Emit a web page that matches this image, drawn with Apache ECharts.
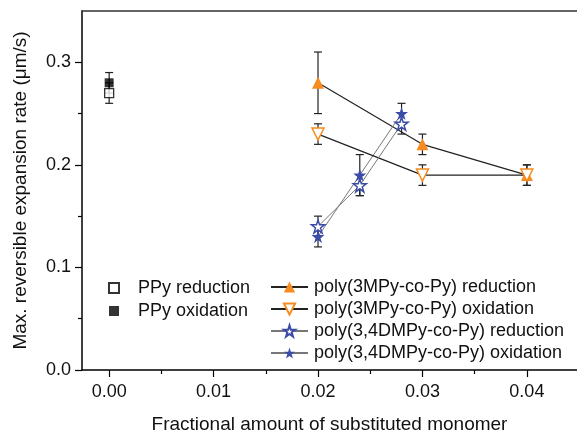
<!DOCTYPE html>
<html><head><meta charset="utf-8">
<script src="https://cdn.jsdelivr.net/npm/echarts@6/dist/echarts.min.js"></script>
<style>html,body{margin:0;padding:0;background:#fff}#c{width:577px;height:439px}</style>
</head><body><div id="c"></div>
<script>
// ---- data ----
const xTicks = [0, 0.01, 0.02, 0.03, 0.04];
const xMinorTicks = [0.005, 0.015, 0.025, 0.035];
const yTicks = [0, 0.1, 0.2, 0.3];
const yMinorTicks = [0.05, 0.15, 0.25];

const ppyX = [0];
const ppyRed = [0.27];
const ppyRedErr = [0.01];
const ppyOx = [0.28];
const ppyOxErr = [0.01];

const mpyX = [0.02, 0.03, 0.04];
const mpyRed = [0.28, 0.22, 0.19];
const mpyRedErr = [0.03, 0.01, 0.01];
const mpyOx = [0.23, 0.19, 0.19];
const mpyOxErr = [0.01, 0.01, 0.01];

const dmpyX = [0.02, 0.024, 0.028];
const dmpyRed = [0.14, 0.18, 0.24];
const dmpyRedErr = [0.01, 0.01, 0.01];
const dmpyOx = [0.13, 0.19, 0.25];
const dmpyOxErr = [0.01, 0.02, 0.01];

// ---- styles ----
const FONT = 'Liberation Sans, Arial, sans-serif';
const ORANGE = '#F68B1F';
const BLUE = '#3B4CA8';
const STAR = 'path://M50,0 L61.8,35.1 L98.9,35.1 L68.9,56.8 L80.3,91.9 L50,70.2 L19.7,91.9 L31.1,56.8 L1.1,35.1 L38.2,35.1 Z';

function pts(xs, ys) { return xs.map((x, i) => [x, ys[i]]); }
function errs(xs, ys, es) { return xs.map((x, i) => [x, ys[i] - es[i], ys[i] + es[i]]); }

const errData = [].concat(
  errs(ppyX, ppyRed, ppyRedErr), errs(ppyX, ppyOx, ppyOxErr),
  errs(mpyX, mpyRed, mpyRedErr), errs(mpyX, mpyOx, mpyOxErr),
  errs(dmpyX, dmpyRed, dmpyRedErr), errs(dmpyX, dmpyOx, dmpyOxErr)
);

const chart = echarts.init(document.getElementById('c'), null, {renderer: 'canvas'});
const axisLine = {show: true, onZero: false, lineStyle: {color: '#000', width: 1.5}};
const option = {
  animation: false,
  backgroundColor: '#fff',
  textStyle: {fontFamily: FONT},
  grid: {left: 82, top: 11, right: 0, bottom: 65},
  xAxis: [
    {type: 'value', min: -0.0026, max: 0.0448, position: 'bottom',
     axisLine: axisLine,
     axisTick: {show: true, customValues: xTicks, length: 7, lineStyle: {color: '#000', width: 1.2}},
     axisLabel: {customValues: xTicks, formatter: v => v.toFixed(2), fontSize: 18, color: '#111', margin: 13, fontFamily: FONT},
     splitLine: {show: false},
     name: 'Fractional amount of substituted monomer', nameLocation: 'middle', nameGap: 45,
     nameTextStyle: {fontSize: 19, color: '#111', fontFamily: FONT}},
    {type: 'value', min: -0.0026, max: 0.0448, position: 'bottom',
     axisLine: {show: false, onZero: false},
     axisTick: {show: true, customValues: xMinorTicks, length: 4, lineStyle: {color: '#000', width: 1.2}},
     axisLabel: {show: false}, splitLine: {show: false}},
    {type: 'value', min: -0.0026, max: 0.0448, position: 'top',
     axisLine: {show: true, onZero: false, lineStyle: {color: '#333', width: 1.5}},
     axisTick: {show: false}, axisLabel: {show: false}, splitLine: {show: false}}
  ],
  yAxis: [
    {type: 'value', min: 0, max: 0.35, position: 'left',
     axisLine: axisLine,
     axisTick: {show: true, customValues: yTicks, length: 7, lineStyle: {color: '#000', width: 1.2}},
     axisLabel: {customValues: yTicks, formatter: v => v.toFixed(1), fontSize: 18, color: '#111', margin: 11, fontFamily: FONT},
     splitLine: {show: false},
     name: 'Max. reversible expansion rate (\u03bcm/s)', nameLocation: 'middle', nameGap: 52,
     nameTextStyle: {fontSize: 19, color: '#111', fontFamily: FONT}},
    {type: 'value', min: 0, max: 0.35, position: 'left',
     axisLine: {show: false, onZero: false},
     axisTick: {show: true, customValues: yMinorTicks, length: 4, lineStyle: {color: '#000', width: 1.2}},
     axisLabel: {show: false}, splitLine: {show: false}}
  ],
  legend: [
    {left: 108, top: 279, padding: 0, orient: 'vertical', itemWidth: 10, itemHeight: 10, itemGap: 5,
     data: ['PPy reduction', 'PPy oxidation'],
     textStyle: {fontSize: 18, color: '#111', lineHeight: 16, padding: [0, 0, 0, 14], fontFamily: FONT}},
    {left: 270, top: 278, padding: 0, orient: 'vertical', itemWidth: 37, itemHeight: 14, itemGap: 4,
     data: ['poly(3MPy-co-Py) reduction', 'poly(3MPy-co-Py) oxidation',
            'poly(3,4DMPy-co-Py) reduction', 'poly(3,4DMPy-co-Py) oxidation'],
     textStyle: {fontSize: 18, color: '#111', lineHeight: 16, padding: [0, 0, 0, 1], fontFamily: FONT}}
  ],
  series: [
    {type: 'custom', name: 'err', z: 1, silent: true,
     data: errData,
     encode: {x: 0, y: [1, 2]},
     renderItem: function (params, api) {
       const x = api.value(0);
       const lo = api.coord([x, api.value(1)]);
       const hi = api.coord([x, api.value(2)]);
       const w = 4;
       const st = {stroke: '#222', lineWidth: 1.2};
       return {type: 'group', children: [
         {type: 'line', shape: {x1: lo[0], y1: lo[1], x2: hi[0], y2: hi[1]}, style: st},
         {type: 'line', shape: {x1: lo[0] - w, y1: lo[1], x2: lo[0] + w, y2: lo[1]}, style: st},
         {type: 'line', shape: {x1: hi[0] - w, y1: hi[1], x2: hi[0] + w, y2: hi[1]}, style: st}
       ]};
     }},
    {type: 'scatter', name: 'PPy oxidation', data: pts(ppyX, ppyOx), symbol: 'rect', symbolSize: 9,
     itemStyle: {color: '#000'}, z: 3},
    {type: 'scatter', name: 'PPy reduction', data: pts(ppyX, ppyRed), symbol: 'rect', symbolSize: 9,
     itemStyle: {color: '#fff', borderColor: '#000', borderWidth: 1.3}, z: 4},
    {type: 'line', name: 'poly(3MPy-co-Py) reduction', data: pts(mpyX, mpyRed), symbol: 'triangle', symbolSize: 12,
     itemStyle: {color: ORANGE}, lineStyle: {color: '#222', width: 1.2}, z: 3},
    {type: 'line', name: 'poly(3MPy-co-Py) oxidation', data: pts(mpyX, mpyOx), symbol: 'triangle', symbolRotate: 180, symbolSize: 12,
     itemStyle: {color: '#fff', borderColor: ORANGE, borderWidth: 1.5}, lineStyle: {color: '#222', width: 1.2}, z: 4},
    {type: 'line', name: 'poly(3,4DMPy-co-Py) reduction', data: pts(dmpyX, dmpyRed), symbol: STAR, symbolSize: 13,
     itemStyle: {color: '#fff', borderColor: BLUE, borderWidth: 1.5}, lineStyle: {color: '#777', width: 1}, z: 4},
    {type: 'line', name: 'poly(3,4DMPy-co-Py) oxidation', data: pts(dmpyX, dmpyOx), symbol: STAR, symbolSize: 13,
     itemStyle: {color: BLUE}, lineStyle: {color: '#777', width: 1}, z: 3}
  ]
};
chart.setOption(option);
</script>
</body></html>
